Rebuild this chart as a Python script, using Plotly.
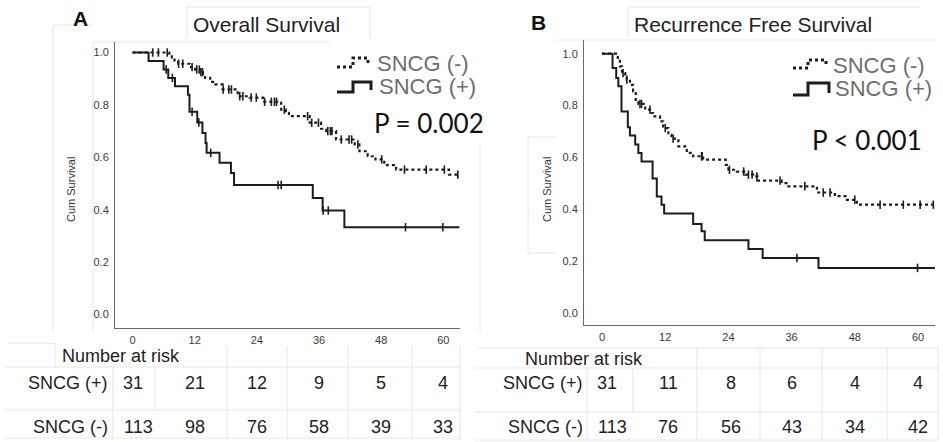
import plotly.graph_objects as go

W, H = 943, 442

# ---------------- Data ----------------
# Panel A: Overall Survival (months, cumulative survival)
os_neg_t = [0, 7.1, 7.6, 8.1, 8.8, 11.0, 12.1, 13.0, 13.6, 14.0, 15.0, 16.0, 17.4, 20.3, 22.6,
            25.2, 28.7, 29.6, 30.2, 34.2, 36.4, 37.4, 39.3, 42.9, 43.8, 45.4, 46.9, 48.6, 50.9,
            61.1, 63.1]
os_neg_s = [1.0, 0.99, 0.98, 0.97, 0.957, 0.944, 0.935, 0.925, 0.912, 0.903, 0.888, 0.878, 0.859,
            0.833, 0.828, 0.812, 0.782, 0.770, 0.757, 0.732, 0.709, 0.700, 0.668, 0.649, 0.623,
            0.604, 0.592, 0.570, 0.553, 0.534, 0.534]
os_neg_cens = [3.9, 5.0, 6.7, 8.9, 9.7, 11.5, 12.4, 12.9, 13.2, 13.5, 17.5, 18.6, 19.1, 20.7, 21.3,
               22.9, 23.9, 25.5, 26.8, 27.4, 27.8, 29.3, 33.8, 34.6, 35.9, 37.7, 38.2, 38.5, 40.3,
               41.8, 42.3, 43.5, 48.1, 52.5, 56.7, 60.2, 62.8]
os_pos_t = [0, 3.1, 6.0, 6.9, 8.2, 10.7, 11.0, 12.5, 13.5, 14.1, 14.3, 16.8, 19.0, 19.6, 34.8,
            36.7, 40.9, 63.1]
os_pos_s = [1.0, 0.968, 0.935, 0.903, 0.871, 0.839, 0.774, 0.733, 0.693, 0.655, 0.617, 0.579,
            0.540, 0.494, 0.445, 0.397, 0.333, 0.333]
os_pos_cens = [6.5, 7.7, 11.5, 12.8, 15.1, 28.1, 28.7, 36.8, 37.8, 52.7, 59.9]

# Panel B: Recurrence Free Survival
rfs_neg_t = [0, 3.0, 3.4, 3.8, 4.4, 4.7, 5.3, 5.9, 6.4, 6.9, 8.2, 9.4, 9.7, 11.0, 11.6, 12.6,
             13.2, 14.5, 16.1, 17.3, 19.2, 23.5, 24.0, 25.6, 27.2, 28.7, 29.5, 34.1, 35.4, 40.8,
             44.2, 46.5, 48.4, 63.2]
rfs_neg_s = [1.0, 0.977, 0.951, 0.925, 0.912, 0.90, 0.880, 0.854, 0.822, 0.806, 0.784, 0.771,
             0.758, 0.739, 0.713, 0.687, 0.672, 0.642, 0.617, 0.604, 0.591, 0.571, 0.552, 0.545,
             0.533, 0.526, 0.510, 0.500, 0.488, 0.464, 0.450, 0.436, 0.417, 0.417]
rfs_neg_cens = [4.0, 4.7, 7.2, 7.5, 9.1, 12.0, 13.5, 18.9, 19.0, 24.2, 26.9, 27.8, 28.5, 29.4,
                33.8, 38.5, 42.0, 43.3, 48.0, 52.8, 57.2, 60.4, 62.9]
rfs_pos_t = [0, 2.0, 2.7, 3.1, 3.7, 4.9, 5.3, 6.3, 6.9, 7.5, 9.6, 10.4, 11.3, 11.8, 17.3, 18.9,
             19.5, 27.8, 30.5, 41.1, 63.2]
rfs_pos_s = [1.0, 0.945, 0.906, 0.874, 0.777, 0.716, 0.684, 0.649, 0.617, 0.584, 0.518, 0.449,
             0.417, 0.383, 0.342, 0.314, 0.280, 0.246, 0.211, 0.173, 0.173]
rfs_pos_cens = [37.0, 59.9]

# Number at risk
risk_times = [0, 12, 24, 36, 48, 60]
os_risk_pos = [31, 21, 12, 9, 5, 4]
os_risk_neg = [113, 98, 76, 58, 39, 33]
rfs_risk_pos = [31, 11, 8, 6, 4, 4]
rfs_risk_neg = [113, 76, 56, 43, 34, 42]

group_labels = ["SNCG (-)", "SNCG (+)"]
panel_titles = ["Overall Survival", "Recurrence Free Survival"]
panel_letters = ["A", "B"]
p_values = ["P = 0.002", "P < 0.001"]
y_ticks = [0.0, 0.2, 0.4, 0.6, 0.8, 1.0]


def step_at(ts, ss, t):
    v = ss[0]
    for ti, si in zip(ts, ss):
        if ti <= t:
            v = si
    return v


def px(x):
    return x / W


def py(y):
    return (H - y) / H


fig = go.Figure()
INK = "#1c1c1c"


def add_panel(xa, ya, neg_t, neg_s, neg_c, pos_t, pos_s, pos_c):
    fig.add_trace(go.Scatter(x=neg_t, y=neg_s, mode="lines", line_shape="hv",
                             line=dict(color=INK, width=2.2, dash="3px,3px"),
                             xaxis=xa, yaxis=ya, showlegend=False, hoverinfo="skip"))
    fig.add_trace(go.Scatter(x=neg_c, y=[step_at(neg_t, neg_s, c) for c in neg_c], mode="markers",
                             marker=dict(symbol="line-ns", size=6, line=dict(color=INK, width=1.6)),
                             xaxis=xa, yaxis=ya, showlegend=False, hoverinfo="skip"))
    fig.add_trace(go.Scatter(x=pos_t, y=pos_s, mode="lines", line_shape="hv",
                             line=dict(color=INK, width=2),
                             xaxis=xa, yaxis=ya, showlegend=False, hoverinfo="skip"))
    fig.add_trace(go.Scatter(x=pos_c, y=[step_at(pos_t, pos_s, c) for c in pos_c], mode="markers",
                             marker=dict(symbol="line-ns", size=6, line=dict(color=INK, width=1.6)),
                             xaxis=xa, yaxis=ya, showlegend=False, hoverinfo="skip"))


add_panel("x", "y", os_neg_t, os_neg_s, os_neg_cens, os_pos_t, os_pos_s, os_pos_cens)
add_panel("x2", "y2", rfs_neg_t, rfs_neg_s, rfs_neg_cens, rfs_pos_t, rfs_pos_s, rfs_pos_cens)

tickfont = dict(family="Liberation Sans, Arial, sans-serif", size=11, color="#3a3a3a")
common_x = dict(tickvals=risk_times, showgrid=False, zeroline=False, showline=True,
                linecolor="#6a6a6a", linewidth=1, ticks="", tickfont=tickfont,
                ticklabelstandoff=2, fixedrange=True)
common_y = dict(tickvals=y_ticks, tickformat=".1f", showgrid=False, zeroline=False, showline=True,
                linecolor="#6a6a6a", linewidth=1, ticks="", tickfont=tickfont,
                ticklabelstandoff=3, fixedrange=True)

fig.update_layout(
    width=W, height=H, margin=dict(l=0, r=0, t=0, b=0),
    paper_bgcolor="white", plot_bgcolor="white",
    xaxis=dict(domain=[px(115), px(460)], range=[-3.38, 63.22], anchor="y", **common_x),
    yaxis=dict(domain=[py(328), py(42)], range=[(314.5 - 328) / 262, (314.5 - 42) / 262],
               anchor="x", **common_y),
    xaxis2=dict(domain=[px(584), px(935)], range=[-3.42, 63.22], anchor="y2", **common_x),
    yaxis2=dict(domain=[py(325), py(40)], range=[(312.7 - 325) / 259, (312.7 - 40) / 259],
                anchor="x2", **common_y),
)

ann = []
FONT = "Liberation Sans, Arial, sans-serif"


def note(x, y, text, font, xanchor="center", xref="paper", **kw):
    d = dict(x=x, y=y, text=text, showarrow=False, xref=xref, yref="paper",
             xanchor=xanchor, yanchor="middle", font=font)
    d.update(kw)
    ann.append(d)


# panel letters and titles
for lx, ly, letter in [(80, 19, panel_letters[0]), (538, 22, panel_letters[1])]:
    note(px(lx), py(ly), "<b>%s</b>" % letter, dict(family=FONT, size=21, color="#111"))
for tx, ty, title in [(191, 24, panel_titles[0]), (632, 24, panel_titles[1])]:
    note(px(tx), py(ty), title, dict(family=FONT, size=21, color="#222"), xanchor="left")

# y axis titles
for yx in [71, 547]:
    note(px(yx), py(190), "Cum Survival", dict(family=FONT, size=11, color="#333"), textangle=-90)

# legend text
LG = dict(family=FONT, size=22, color="#6e6e6e")
for lx, ly0, ly1 in [(375, 63, 87), (831, 65, 89)]:
    note(px(lx), py(ly0), group_labels[0], LG, xanchor="left")
    note(px(lx + 2), py(ly1), group_labels[1], LG, xanchor="left")

# p values
for pxv, pyv, ptxt in [(372, 123, p_values[0]), (810, 140, p_values[1])]:
    note(px(pxv), py(pyv), ptxt, dict(family="Lato, Open Sans, sans-serif", size=26, color="#111"),
         xanchor="left")

# risk tables
TF = dict(family=FONT, size=18, color="#222")
for xr, ya_px, nar_x, lab_r, rows in [
    ("x", (356, 383, 427), 60, 110, (os_risk_pos, os_risk_neg)),
    ("x2", (359, 383, 427), 523, 585, (rfs_risk_pos, rfs_risk_neg)),
]:
    note(px(nar_x), py(ya_px[0]), "Number at risk", TF, xanchor="left")
    note(px(lab_r), py(ya_px[1]), group_labels[1], TF, xanchor="right")
    note(px(lab_r), py(ya_px[2]), group_labels[0], TF, xanchor="right")
    for row, ry in [(rows[0], ya_px[1]), (rows[1], ya_px[2])]:
        for i, (t, v) in enumerate(zip(risk_times, row)):
            shift = 0
            if i == 0:
                if v >= 100:
                    shift = 6 if xr == "x" else 10
                elif xr == "x2":
                    shift = 5
            elif xr == "x2" and i in (1, 2):
                shift = 3
            note(t, py(ry), str(v), TF, xref=xr, xshift=shift)

fig.update_layout(annotations=ann)

# legend icons and faint framing lines
shapes = []


def path(pts):
    return "M " + " L ".join("%.5f,%.5f" % (px(a), py(b)) for a, b in pts)


for (x0, yd, yu, xm, xe, sd, su) in [(337, 67, 58, 353, 368, 92, 82), (793, 68, 60, 808, 826, 95, 83)]:
    shapes.append(dict(type="path", xref="paper", yref="paper",
                       path=path([(x0, yd), (xm, yd), (xm, yu), (xe, yu), (xe, yd - 2)]),
                       line=dict(color="#1c1c1c", width=3, dash="3px,3px")))
    shapes.append(dict(type="path", xref="paper", yref="paper",
                       path=path([(x0, sd), (xm, sd), (xm, su), (xe + 3, su), (xe + 3, sd - 2)]),
                       line=dict(color="#1c1c1c", width=3)))

FAINT = "#e6e6e6"
faint_lines = [
    # panel A frame artifacts
    (53, 25, 53, 332), (53, 25, 93, 25), (93, 42, 93, 332), (93, 42, 330, 42),
    (187, 7, 370, 7), (187, 7, 187, 38), (370, 7, 370, 38), (480, 145, 480, 332),
    # panel B frame artifacts
    (628, 7, 920, 7), (628, 7, 628, 37), (528, 137, 556, 137), (528, 137, 528, 253),
    (528, 253, 556, 253), (558, 40, 935, 40),
    # table grids A
    (5, 367, 460, 367), (5, 410, 460, 410), (5, 438, 460, 438), (113, 367, 113, 440),
    (155, 367, 155, 410), (227, 346, 227, 440), (287, 346, 287, 440), (348, 346, 348, 440),
    (412, 346, 412, 440), (460, 346, 460, 440), (8, 343, 55, 343), (55, 343, 55, 367),
    # table grids B
    (475, 368, 938, 368), (475, 412, 938, 412), (475, 440, 938, 440), (587, 368, 587, 440),
    (633, 368, 633, 412), (697, 348, 697, 440), (760, 348, 760, 440), (822, 348, 822, 440),
    (887, 348, 887, 440), (938, 348, 938, 440), (478, 348, 938, 348),
]
for (a, b, c, d) in faint_lines:
    shapes.append(dict(type="line", xref="paper", yref="paper", x0=px(a), y0=py(b), x1=px(c),
                       y1=py(d), line=dict(color=FAINT, width=1), layer="below"))

fig.update_layout(shapes=shapes)

fig.write_html("out.html", config={"displayModeBar": False},
               post_script="document.body.style.margin='0';document.body.style.overflow='hidden';")
